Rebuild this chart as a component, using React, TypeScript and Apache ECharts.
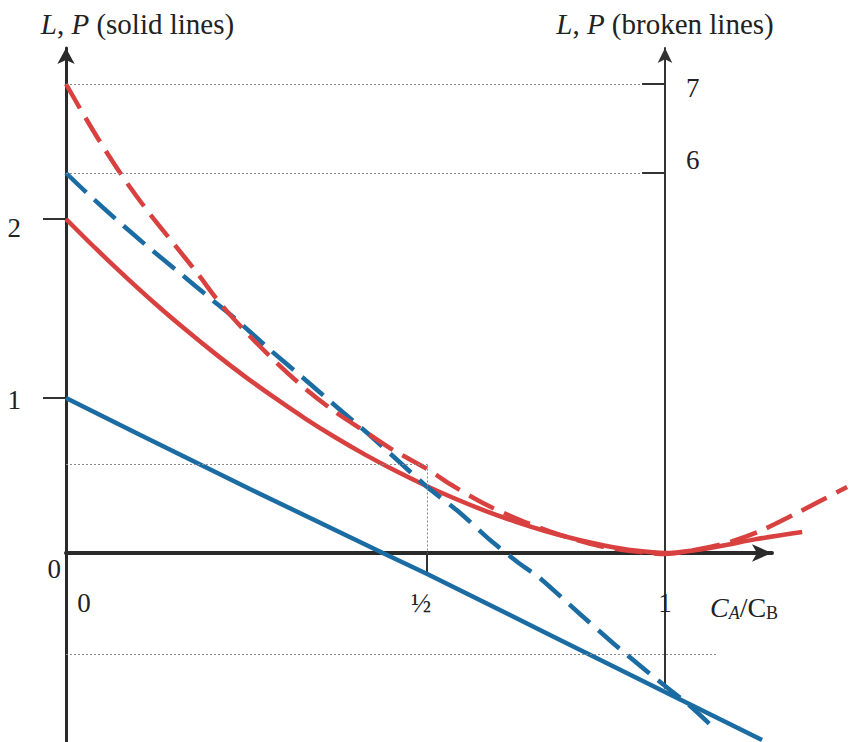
import React, { useEffect, useRef } from "react";
import * as echarts from "echarts";

const FONT = '"Liberation Serif", "Times New Roman", serif';
const RED = "#d8413f";
const BLUE = "#1b6ca3";
const INK = "#222222";
const AXIS = "#2a2a2a";
const GUIDE = "#8a8a8a";

// x axis: C_A/C_B (diagram units, 0 at left axis, 1 at right axis)
const xTicks = [0, 0.603, 1];
const xTickLabels = ["0", "½", "1"];
// left axis (solid lines)
const leftTicks = [1, 2.155];
const leftTickLabels = ["1", "2"];
// right axis (broken lines)
const rightTicks = [6, 7];
const rightTickLabels = ["6", "7"];

// solid lines, read against the left axis
const pSolid: [number, number][] = [
  [0, 2.155], [0.05, 1.963], [0.1, 1.78], [0.15, 1.605], [0.2, 1.44],
  [0.25, 1.283], [0.3, 1.135], [0.35, 0.997], [0.4, 0.866], [0.45, 0.745],
  [0.5, 0.633], [0.55, 0.53], [0.6, 0.436], [0.65, 0.35], [0.7, 0.272],
  [0.75, 0.203], [0.8, 0.142], [0.85, 0.09], [0.9, 0.047], [0.95, 0.016],
  [1.0, 0.0], [1.05, 0.018], [1.1, 0.05], [1.15, 0.088], [1.229, 0.135],
];
const lSolid: [number, number][] = [
  [0, 1.0], [0.124, 0.761], [0.307, 0.413], [0.529, 0.0], [0.603, -0.135],
  [0.808, -0.529], [1.0, -0.897], [1.162, -1.206],
];

// broken lines, read against the right axis
const pBroken: [number, number][] = [
  [0, 7.0], [0.023, 6.73], [0.057, 6.348], [0.095, 5.955], [0.135, 5.584],
  [0.179, 5.213], [0.219, 4.876], [0.257, 4.539], [0.302, 4.202], [0.352, 3.865],
  [0.402, 3.562], [0.452, 3.303], [0.503, 3.079], [0.546, 2.888], [0.603, 2.674],
  [0.641, 2.506], [0.696, 2.292], [0.758, 2.101], [0.825, 1.933], [0.891, 1.809],
  [0.958, 1.742], [1.0, 1.719], [1.058, 1.775], [1.108, 1.854], [1.159, 1.978],
  [1.214, 2.157], [1.259, 2.315], [1.304, 2.472],
];
const lBroken: [number, number][] = [
  [0, 6.0], [0.035, 5.775], [0.085, 5.472], [0.137, 5.169], [0.19, 4.876],
  [0.24, 4.596], [0.285, 4.348], [0.341, 4.011], [0.396, 3.697], [0.452, 3.371],
  [0.503, 3.079], [0.553, 2.775], [0.603, 2.472], [0.658, 2.18], [0.708, 1.876],
  [0.758, 1.607], [0.791, 1.449], [0.858, 1.045], [0.913, 0.719], [0.975, 0.371],
  [1.042, 0.011], [1.078, -0.213],
];

// dotted guide lines
const guideHalfX = 0.603;
const guideHalfLeft = 0.571;
const guideLowLeft = -0.652;
const guideLowEndX = 1.087;
const guideTopRight = [7, 6];
const guideTopEndX = 0.962;

const labelFor = (ticks: number[], labels: string[], v: number) => {
  const i = ticks.findIndex((t) => Math.abs(t - v) < 1e-6);
  return i >= 0 ? labels[i] : "";
};

const numStyle = { fontFamily: FONT, fontSize: 27, color: INK };
const titleStyle = { fontFamily: FONT, fontSize: 29, color: INK };

// pixel frame of the diagram
const X0 = 66; // left axis
const UX = 599; // px per x unit
const XMAX_DATA = 1.32;
const XMAX_AXIS = 1.1786; // x axis arrow

export default function App() {
  const ref = useRef<HTMLDivElement>(null);

  useEffect(() => {
    if (!ref.current) return;
    const chart = echarts.init(ref.current, undefined, { renderer: "svg" });

    const guideStyle = { color: GUIDE, width: 1, type: [2, 2] as number[] };
    const markBase = {
      silent: true,
      symbol: ["none", "none"],
      label: { show: false },
      emphasis: { disabled: true },
      lineStyle: guideStyle,
      animation: false,
    };
    const hidden = { show: false };

    const option: any = {
      animation: false,
      backgroundColor: "#ffffff",
      grid: [
        // 0: solid lines (left scale)
        { left: X0, top: 48, width: UX * XMAX_DATA, height: 694, outerBoundsMode: "none", containLabel: false },
        // 1: broken lines (right scale)
        { left: X0, top: 48, width: UX * XMAX_DATA, height: 694, outerBoundsMode: "none", containLabel: false },
        // 2: C_A/C_B axis
        { left: X0, top: 48, width: UX * XMAX_AXIS, height: 505, outerBoundsMode: "none", containLabel: false },
        // 3: right axis frame
        { left: X0, top: 48, width: UX, height: 640, outerBoundsMode: "none", containLabel: false },
      ],
      xAxis: [
        { type: "value", gridIndex: 0, min: 0, max: XMAX_DATA, ...hidden },
        { type: "value", gridIndex: 1, min: 0, max: XMAX_DATA, ...hidden },
        {
          type: "value",
          gridIndex: 2,
          min: 0,
          max: XMAX_AXIS,
          position: "bottom",
          axisLine: {
            onZero: false,
            lineStyle: { color: AXIS, width: 4 },
            symbol: ["none", "arrow"],
            symbolSize: [13, 20],
          },
          axisTick: {
            show: true,
            customValues: [guideHalfX],
            length: 22,
            lineStyle: { color: "#333", width: 2 },
          },
          axisLabel: {
            customValues: xTicks,
            margin: 36,
            ...numStyle,
            formatter: (v: number) => {
              const s = labelFor(xTicks, xTickLabels, v);
              if (Math.abs(v) < 1e-6) return "{z|" + s + "}";
              if (Math.abs(v - guideHalfX) < 1e-6) return "{h|" + s + "}";
              return "{n|" + s + "}";
            },
            rich: {
              z: { ...numStyle, padding: [0, 0, 0, 36] },
              h: { ...numStyle, padding: [0, 12, 0, 0] },
              n: { ...numStyle },
            },
          },
          splitLine: { show: false },
          name: "{ci|C}{sa|A}{n|/C}{sb|B}",
          nameLocation: "end",
          nameGap: -62,
          nameMoveOverlap: false,
          nameTextStyle: {
            align: "left",
            verticalAlign: "middle",
            padding: [108, 0, 0, 0],
            fontFamily: FONT,
            fontSize: 28,
            color: INK,
            rich: {
              ci: { fontFamily: FONT, fontSize: 28, fontStyle: "italic", color: INK, lineHeight: 30 },
              sa: { fontFamily: FONT, fontSize: 18, fontStyle: "italic", color: INK, lineHeight: 16, verticalAlign: "bottom" },
              n: { fontFamily: FONT, fontSize: 28, color: INK, lineHeight: 30 },
              sb: { fontFamily: FONT, fontSize: 18, color: INK, lineHeight: 16, verticalAlign: "bottom" },
            },
          },
        },
        { type: "value", gridIndex: 3, min: 0, max: 1, ...hidden },
      ],
      yAxis: [
        {
          type: "value",
          gridIndex: 0,
          min: -1.2194,
          max: 3.2581,
          position: "left",
          axisLine: {
            onZero: false,
            lineStyle: { color: AXIS, width: 3 },
            symbol: ["none", "arrow"],
            symbolSize: [13, 16],
          },
          axisTick: {
            show: true,
            customValues: leftTicks,
            length: 23,
            lineStyle: { color: "#333", width: 2 },
          },
          axisLabel: {
            customValues: leftTicks,
            margin: 45,
            ...numStyle,
            formatter: (v: number) => {
              const s = labelFor(leftTicks, leftTickLabels, v);
              return Math.abs(v - 1) < 1e-6 ? "{a|" + s + "}" : "{b|" + s + "}";
            },
            rich: {
              a: { ...numStyle, padding: [4, 0, 0, 0] },
              b: { ...numStyle, padding: [18, 0, 0, 0] },
            },
          },
          splitLine: { show: false },
          name: "{i|L}{r|, }{i|P}{r| (solid lines)}",
          nameLocation: "end",
          nameGap: 10,
          nameMoveOverlap: false,
          nameTextStyle: {
            align: "center",
            verticalAlign: "bottom",
            padding: [0, 0, 0, 143],
            ...titleStyle,
            rich: { i: { ...titleStyle, fontStyle: "italic" }, r: { ...titleStyle } },
          },
        },
        { type: "value", gridIndex: 1, min: -0.3933, max: 7.4045, ...hidden },
        {
          type: "value",
          gridIndex: 2,
          min: 0,
          max: 1,
          position: "left",
          axisLine: { show: false, onZero: false },
          axisTick: { show: false },
          splitLine: { show: false },
          axisLabel: {
            customValues: [0],
            margin: 5,
            ...numStyle,
            formatter: () => "{z|0}",
            rich: { z: { ...numStyle, padding: [32, 0, 0, 0] } },
          },
        },
        {
          type: "value",
          gridIndex: 3,
          min: 0.2135,
          max: 7.4045,
          position: "right",
          axisLine: {
            onZero: false,
            lineStyle: { color: "#333", width: 2 },
            symbol: ["none", "arrow"],
            symbolSize: [11, 15],
          },
          axisTick: {
            show: true,
            customValues: rightTicks,
            inside: true,
            length: 23,
            lineStyle: { color: "#333", width: 2 },
          },
          axisLabel: {
            customValues: rightTicks,
            margin: 21,
            ...numStyle,
            formatter: (v: number) => {
              const s = labelFor(rightTicks, rightTickLabels, v);
              return Math.abs(v - 7) < 1e-6 ? "{s|" + s + "}" : "{u|" + s + "}";
            },
            rich: {
              s: { ...numStyle, padding: [8, 0, 0, 0] },
              u: { ...numStyle, padding: [0, 0, 26, 0] },
            },
          },
          splitLine: { show: false },
          name: "{i|L}{r|, }{i|P}{r| (broken lines)}",
          nameLocation: "end",
          nameGap: 10,
          nameMoveOverlap: false,
          nameTextStyle: {
            align: "center",
            verticalAlign: "bottom",
            ...titleStyle,
            rich: { i: { ...titleStyle, fontStyle: "italic" }, r: { ...titleStyle } },
          },
        },
      ],
      series: [
        {
          type: "line",
          name: "L (solid)",
          xAxisIndex: 0,
          yAxisIndex: 0,
          data: lSolid,
          symbol: "none",
          showSymbol: false,
          clip: false,
          lineStyle: { color: BLUE, width: 4.5 },
          markLine: {
            ...markBase,
            data: [
              [{ coord: [0, guideHalfLeft] }, { coord: [guideHalfX, guideHalfLeft] }],
              [{ coord: [guideHalfX, guideHalfLeft] }, { coord: [guideHalfX, 0] }],
              [{ coord: [0, guideLowLeft] }, { coord: [guideLowEndX, guideLowLeft] }],
            ],
          },
        },
        {
          type: "line",
          name: "P (solid)",
          xAxisIndex: 0,
          yAxisIndex: 0,
          data: pSolid,
          smooth: 0.3,
          symbol: "none",
          showSymbol: false,
          clip: false,
          lineStyle: { color: RED, width: 4.5 },
        },
        {
          type: "line",
          name: "L (broken)",
          xAxisIndex: 1,
          yAxisIndex: 1,
          data: lBroken,
          smooth: 0.2,
          symbol: "none",
          showSymbol: false,
          clip: false,
          lineStyle: { color: BLUE, width: 4.5, type: [28, 11] },
          markLine: {
            ...markBase,
            data: guideTopRight.map((lv) => [{ coord: [0, lv] }, { coord: [guideTopEndX, lv] }]),
          },
        },
        {
          type: "line",
          name: "P (broken)",
          xAxisIndex: 1,
          yAxisIndex: 1,
          data: pBroken,
          smooth: 0.3,
          symbol: "none",
          showSymbol: false,
          clip: false,
          lineStyle: { color: RED, width: 4.5, type: [28, 11] },
        },
      ],
    };

    chart.setOption(option);
    return () => chart.dispose();
  }, []);

  return (
    <div
      ref={ref}
      style={{ position: "absolute", left: 0, top: 0, width: 853, height: 742, background: "#fff" }}
    />
  );
}
